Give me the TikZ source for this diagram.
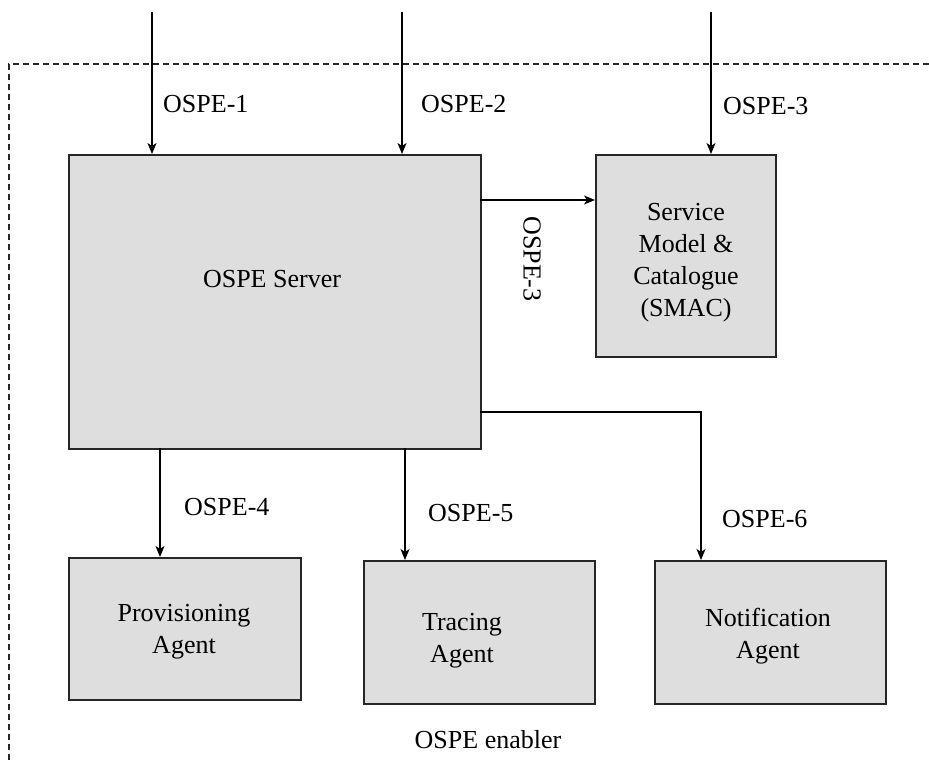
\documentclass[tikz,border=0pt]{standalone}
\usepackage{fontspec}
\setmainfont{Liberation Serif}
\usetikzlibrary{arrows.meta}
\begin{document}
\begin{tikzpicture}[x=1pt,y=-1pt,
  box/.style={draw=black!85,line width=1.6pt,fill=black!13,inner sep=0pt,anchor=north west},
  txt/.style={font=\fontsize{26}{32}\selectfont,inner sep=0pt,align=center},
  lbl/.style={font=\fontsize{26}{32}\selectfont,inner sep=0pt,anchor=base west},
  arr/.style={line width=1.5pt,-{Stealth[length=11pt,width=9pt,inset=3pt]}},
  enc/.style={line width=1.4pt,black!85,dash pattern=on 6pt off 4pt}]
\useasboundingbox (0,0) rectangle (929,761);
% enclosure
\coordinate (ec) at (9,64);
\coordinate (er) at (929,64);
\coordinate (eb) at (9,761);
\draw[enc] (er) -- (ec) -- (eb);
% boxes
\node[box,minimum width=412pt,minimum height=294pt] (srv) at (68,154) {};
\node[box,minimum width=180pt,minimum height=202pt] (smac) at (595,154) {};
\node[box,minimum width=232pt,minimum height=142pt] (prov) at (68,557) {};
\node[box,minimum width=231pt,minimum height=143pt] (trac) at (363,560) {};
\node[box,minimum width=231pt,minimum height=143pt] (notif) at (654,560) {};
% box texts
\node[txt] (srvt) at (272,279) {OSPE Server};
\node[txt] (smact) at (686,263) {Service\\Model \&\\Catalogue\\(SMAC)};
\node[txt] (provt) at (184,632) {Provisioning\\Agent};
\node[txt] (tract) at (462,641) {Tracing\\Agent};
\node[txt] (notift) at (768,636) {Notification\\Agent};
% incoming arrows
\coordinate (i1) at (152,12);
\coordinate (i2) at (402,12);
\coordinate (i3) at (711,12);
\draw[arr] (i1) -- (i1 |- srv.north);
\draw[arr] (i2) -- (i2 |- srv.north);
\draw[arr] (i3) -- (i3 |- smac.north);
% server to SMAC
\coordinate (s3) at (480,200);
\draw[arr] (s3) -- (s3 -| smac.west);
% server to agents
\coordinate (s4) at (160,448);
\coordinate (s5) at (405,448);
\coordinate (s6) at (480,412);
\coordinate (e6) at (701,560);
\draw[arr] (s4) -- (s4 |- prov.north);
\draw[arr] (s5) -- (s5 |- trac.north);
\draw[arr] (s6) -| (e6);
% labels
\node[lbl] (l1) at (163,112) {OSPE-1};
\node[lbl] (l2) at (421,112) {OSPE-2};
\node[lbl] (l3) at (723,114) {OSPE-3};
\node[txt,rotate=-90] (l3b) at (532,259) {OSPE-3};
\node[lbl] (l4) at (184,515) {OSPE-4};
\node[lbl] (l5) at (428,521) {OSPE-5};
\node[lbl] (l6) at (722,527) {OSPE-6};
\node[txt,anchor=base] (enab) at (488,748) {OSPE enabler};
\end{tikzpicture}
\end{document}
